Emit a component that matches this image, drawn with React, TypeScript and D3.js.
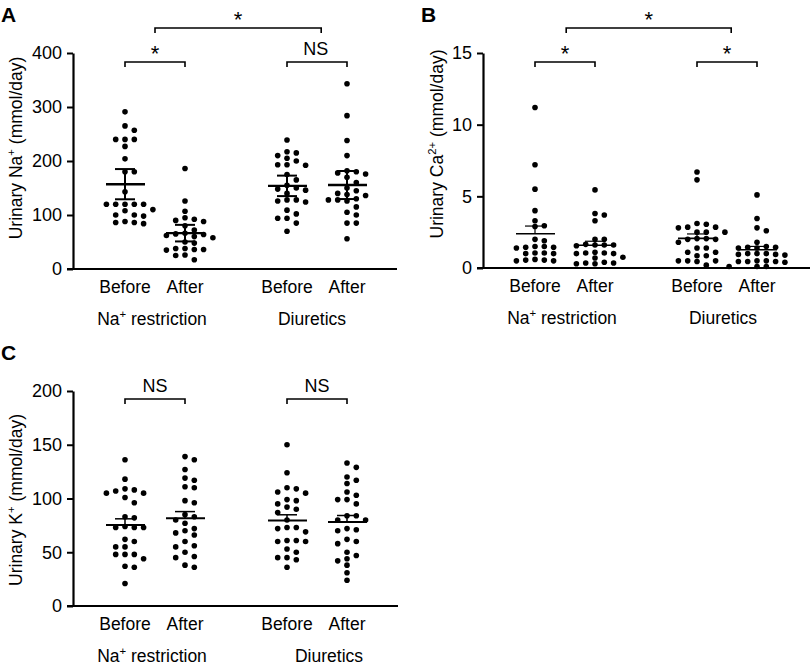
import React, { useEffect, useRef } from 'react';
import * as d3 from 'd3';

// ---------- data ----------
const timepoints = ['Before', 'After', 'Before', 'After'];
const conditions = ['Na+ restriction', 'Diuretics'];

// Panel A: urinary Na+ (mmol/day)
const naRestrictionBeforeNa = [291, 265, 257, 240, 240, 240, 227, 204, 180, 180, 143, 120, 120, 120, 120, 120, 110, 108, 100, 100, 98, 88, 86, 86, 84];
const naRestrictionAfterNa = [186, 126, 107, 95, 92, 90, 88, 80, 72, 66, 65, 64, 62, 60, 58, 50, 48, 38, 38, 36, 36, 35, 26, 25, 17];
const diureticsBeforeNa = [239, 217, 215, 210, 205, 200, 193, 193, 192, 175, 165, 155, 150, 148, 146, 140, 128, 128, 126, 124, 109, 102, 94, 94, 85, 70];
const diureticsAfterNa = [343, 284, 238, 210, 182, 180, 178, 176, 170, 160, 150, 145, 140, 138, 136, 130, 128, 128, 126, 115, 105, 100, 85, 85, 56];

// Panel B: urinary Ca2+ (mmol/day)
const naRestrictionBeforeCa = [11.2, 7.2, 5.5, 4.0, 3.3, 2.95, 2.9, 2.0, 1.9, 1.5, 1.5, 1.45, 1.45, 1.4, 1.05, 1.05, 1.0, 1.0, 0.6, 0.55, 0.55, 0.5, 0.5];
const naRestrictionAfterCa = [5.45, 3.8, 3.7, 3.3, 2.0, 2.0, 1.65, 1.6, 1.6, 1.6, 1.55, 1.1, 1.05, 1.05, 1.0, 1.0, 0.75, 0.7, 0.4, 0.35, 0.35, 0.3, 0.3];
const diureticsBeforeCa = [6.7, 6.15, 3.1, 3.05, 2.85, 2.85, 2.8, 2.5, 2.5, 2.5, 2.05, 2.05, 2.0, 2.0, 1.8, 1.4, 1.4, 1.1, 1.1, 0.85, 0.85, 0.5, 0.5, 0.5, 0.45, 0.2];
const diureticsAfterCa = [5.1, 3.45, 2.8, 2.6, 1.8, 1.5, 1.45, 1.45, 1.4, 1.4, 1.0, 1.0, 1.0, 0.95, 0.95, 0.9, 0.5, 0.5, 0.45, 0.45, 0.45, 0.4, 0.1, 0.1, 0.1];

// Panel C: urinary K+ (mmol/day)
const naRestrictionBeforeK = [136, 118, 109, 108, 107, 105, 105, 101, 96, 83, 82, 74, 73, 73, 73, 62, 60, 55, 55, 48, 48, 48, 44, 37, 36, 21];
const naRestrictionAfterK = [139, 136, 127, 119, 117, 111, 110, 98, 96, 85, 83, 80, 77, 72, 70, 68, 66, 60, 56, 55, 50, 46, 45, 38, 36];
const diureticsBeforeK = [150, 124, 110, 109, 106, 105, 99, 98, 95, 92, 90, 87, 80, 73, 73, 72, 69, 61, 61, 60, 60, 53, 50, 45, 45, 43, 36];
const diureticsAfterK = [133, 129, 120, 117, 114, 106, 103, 99, 99, 95, 84, 84, 80, 80, 72, 71, 70, 62, 60, 58, 50, 47, 44, 42, 38, 31, 24];

const ticksNa = [0, 100, 200, 300, 400];
const ticksCa = [0, 5, 10, 15];
const ticksK = [0, 50, 100, 150, 200];

// ---------- layout ----------
const FONT = "'Liberation Sans', Arial, Helvetica, sans-serif";
const slots = [0, 1, 2.7, 3.7];

type Part = { t: string; sup?: boolean };
type Bracket = { from: number; to: number; y: number; label: string; lx?: number };
type Panel = {
  letter: string; letterX: number; letterY: number;
  axisX: number; x0: number; y0: number; yTop: number; xRight: number;
  domain: [number, number]; ticks: number[]; series: number[][];
  err: 'ci' | 'sem-up'; meanW: number; errW: number; minDist: number;
  ylabel: Part[]; ylabelX: number; ylabelY: number;
  condOffsets: number[]; brackets: Bracket[];
};

const panels: Panel[] = [
  {
    letter: 'A', letterX: 1, letterY: 22, axisX: 73, x0: 125, y0: 269, yTop: 53, xRight: 397,
    domain: [0, 400], ticks: ticksNa,
    series: [naRestrictionBeforeNa, naRestrictionAfterNa, diureticsBeforeNa, diureticsAfterNa],
    err: 'ci', meanW: 2.4, errW: 2, minDist: 6.2,
    ylabel: [{ t: 'Urinary Na' }, { t: '+', sup: true }, { t: ' (mmol/day)' }], ylabelX: 22, ylabelY: 148,
    condOffsets: [-3, -5],
    brackets: [
      { from: 0, to: 1, y: 62, label: '*' },
      { from: 2.7, to: 3.7, y: 62, label: 'NS', lx: 3.18 },
      { from: 0.5, to: 3.27, y: 28, label: '*' },
    ],
  },
  {
    letter: 'B', letterX: 421, letterY: 22, axisX: 483, x0: 535, y0: 268, yTop: 53, xRight: 810,
    domain: [0, 15], ticks: ticksCa,
    series: [naRestrictionBeforeCa, naRestrictionAfterCa, diureticsBeforeCa, diureticsAfterCa],
    err: 'sem-up', meanW: 1.6, errW: 1.2, minDist: 5.4,
    ylabel: [{ t: 'Urinary Ca' }, { t: '2+', sup: true }, { t: ' (mmol/day)' }], ylabelX: 443, ylabelY: 144,
    condOffsets: [-3, -4],
    brackets: [
      { from: 0, to: 1, y: 62, label: '*' },
      { from: 2.7, to: 3.7, y: 62, label: '*' },
      { from: 0.52, to: 3.27, y: 28, label: '*' },
    ],
  },
  {
    letter: 'C', letterX: 1, letterY: 360, axisX: 73, x0: 125, y0: 606, yTop: 391, xRight: 398,
    domain: [0, 200], ticks: ticksK,
    series: [naRestrictionBeforeK, naRestrictionAfterK, diureticsBeforeK, diureticsAfterK],
    err: 'sem-up', meanW: 2, errW: 1.5, minDist: 6.2,
    ylabel: [{ t: 'Urinary K' }, { t: '+', sup: true }, { t: ' (mmol/day)' }], ylabelX: 22, ylabelY: 500,
    condOffsets: [-3, 12],
    brackets: [
      { from: 0, to: 1, y: 399, label: 'NS' },
      { from: 2.7, to: 3.7, y: 399, label: 'NS' },
    ],
  },
];

function addParts(text: d3.Selection<SVGTextElement, unknown, null, undefined>, parts: Part[], size: number) {
  let shifted = false;
  parts.forEach((p) => {
    const ts = text.append('tspan').text(p.t);
    if (p.sup) {
      ts.attr('font-size', size * 0.65).attr('dy', -size * 0.42);
      shifted = true;
    } else if (shifted) {
      ts.attr('dy', size * 0.42);
      shifted = false;
    }
  });
}

function swarm(values: number[], cx: number, y: d3.ScaleLinear<number, number>, minDist: number) {
  const step = 9.3;
  const pts = values.map((v) => ({ v, py: y(v), px: cx })).sort((a, b) => b.v - a.v);
  const placed: { v: number; py: number; px: number }[] = [];
  pts.forEach((p) => {
    for (let k = 0; k < 30; k++) {
      const m = Math.ceil(k / 2) * (k % 2 === 1 ? 1 : -1);
      const px = cx + m * step;
      if (placed.every((q) => Math.hypot(q.px - px, q.py - p.py) >= minDist)) {
        placed.push({ ...p, px });
        break;
      }
    }
  });
  return placed;
}

function drawPanel(root: d3.Selection<SVGGElement, unknown, null, undefined>, p: Panel) {
  const y = d3.scaleLinear().domain(p.domain).range([p.y0, p.yTop]);
  const x = d3.scaleLinear().domain([0, 3.7]).range([p.x0, p.x0 + 222]);

  // panel letter
  root.append('text').attr('x', p.letterX).attr('y', p.letterY)
    .attr('font-family', FONT).attr('font-weight', 'bold').attr('font-size', 21).text(p.letter);

  // y axis
  const ax = root.append('g').attr('transform', `translate(${p.axisX},0)`)
    .call(d3.axisLeft(y).tickValues(p.ticks).tickSize(6).tickSizeOuter(0).tickPadding(5).tickFormat(d3.format('d')));
  ax.select('.domain').attr('stroke', '#000').attr('stroke-width', 2.2);
  ax.selectAll('.tick line').attr('stroke', '#000').attr('stroke-width', 2);
  ax.selectAll('.tick text').attr('font-family', FONT).attr('font-size', 18).attr('fill', '#000');

  // x axis line
  root.append('line').attr('x1', p.axisX - 6).attr('x2', p.xRight).attr('y1', p.y0).attr('y2', p.y0)
    .attr('stroke', '#000').attr('stroke-width', 2.2);

  // y label
  const yl = root.append('text').attr('transform', `translate(${p.ylabelX},${p.ylabelY}) rotate(-90)`)
    .attr('text-anchor', 'middle').attr('font-family', FONT).attr('font-size', 17.5);
  addParts(yl, p.ylabel, 17.5);

  // category labels
  timepoints.forEach((t, i) => {
    root.append('text').attr('x', x(slots[i])).attr('y', p.y0 + 24).attr('text-anchor', 'middle')
      .attr('font-family', FONT).attr('font-size', 17.5).text(t);
  });
  conditions.forEach((c, i) => {
    const cx = (x(slots[i * 2]) + x(slots[i * 2 + 1])) / 2 + p.condOffsets[i];
    const t = root.append('text').attr('x', cx).attr('y', p.y0 + 56).attr('text-anchor', 'middle')
      .attr('font-family', FONT).attr('font-size', 17.5);
    if (c.startsWith('Na+')) addParts(t, [{ t: 'Na' }, { t: '+', sup: true }, { t: ' restriction' }], 17.5);
    else t.text(c);
  });

  // points
  p.series.forEach((vals, i) => {
    const cx = x(slots[i]);
    const pts = swarm(vals, cx, y, p.minDist);
    root.append('g').selectAll('circle').data(pts).join('circle')
      .attr('cx', (d) => d.px).attr('cy', (d) => d.py).attr('r', 2.8).attr('fill', '#000');

    const mean = d3.mean(vals) as number;
    const sem = (d3.deviation(vals) as number) / Math.sqrt(vals.length);
    const half = p.err === 'ci' ? 2.064 * sem : sem;
    const top = mean + half;
    const bot = p.err === 'ci' ? mean - half : mean;
    const g = root.append('g').attr('stroke', '#000');
    g.append('line').attr('x1', cx - 19).attr('x2', cx + 20).attr('y1', y(mean)).attr('y2', y(mean)).attr('stroke-width', p.meanW);
    g.append('line').attr('x1', cx).attr('x2', cx).attr('y1', y(top)).attr('y2', y(bot)).attr('stroke-width', p.errW);
    g.append('line').attr('x1', cx - 10).attr('x2', cx + 10).attr('y1', y(top)).attr('y2', y(top)).attr('stroke-width', p.errW);
    if (p.err === 'ci') {
      g.append('line').attr('x1', cx - 10).attr('x2', cx + 10).attr('y1', y(bot)).attr('y2', y(bot)).attr('stroke-width', p.errW);
    }
  });

  // significance brackets
  p.brackets.forEach((b) => {
    const x1 = x(b.from);
    const x2 = x(b.to);
    root.append('path').attr('d', `M${x1},${b.y + 5}V${b.y}H${x2}V${b.y + 5}`)
      .attr('fill', 'none').attr('stroke', '#000').attr('stroke-width', 1.6);
    const lx = b.lx !== undefined ? x(b.lx) : (x1 + x2) / 2;
    const isStar = b.label === '*';
    root.append('text').attr('x', lx).attr('y', isStar ? b.y - 1 : b.y - 7)
      .attr('text-anchor', 'middle').attr('font-family', FONT).attr('font-size', isStar ? 22 : 18).text(b.label);
  });
}

export default function App() {
  const ref = useRef<SVGSVGElement>(null);
  useEffect(() => {
    const svg = d3.select(ref.current as SVGSVGElement);
    svg.selectAll('*').remove();
    panels.forEach((p) => drawPanel(svg.append('g') as any, p));
  }, []);
  return (
    <svg ref={ref} width={810} height={666}
      style={{ position: 'absolute', left: 0, top: 0, background: '#fff' }} />
  );
}
